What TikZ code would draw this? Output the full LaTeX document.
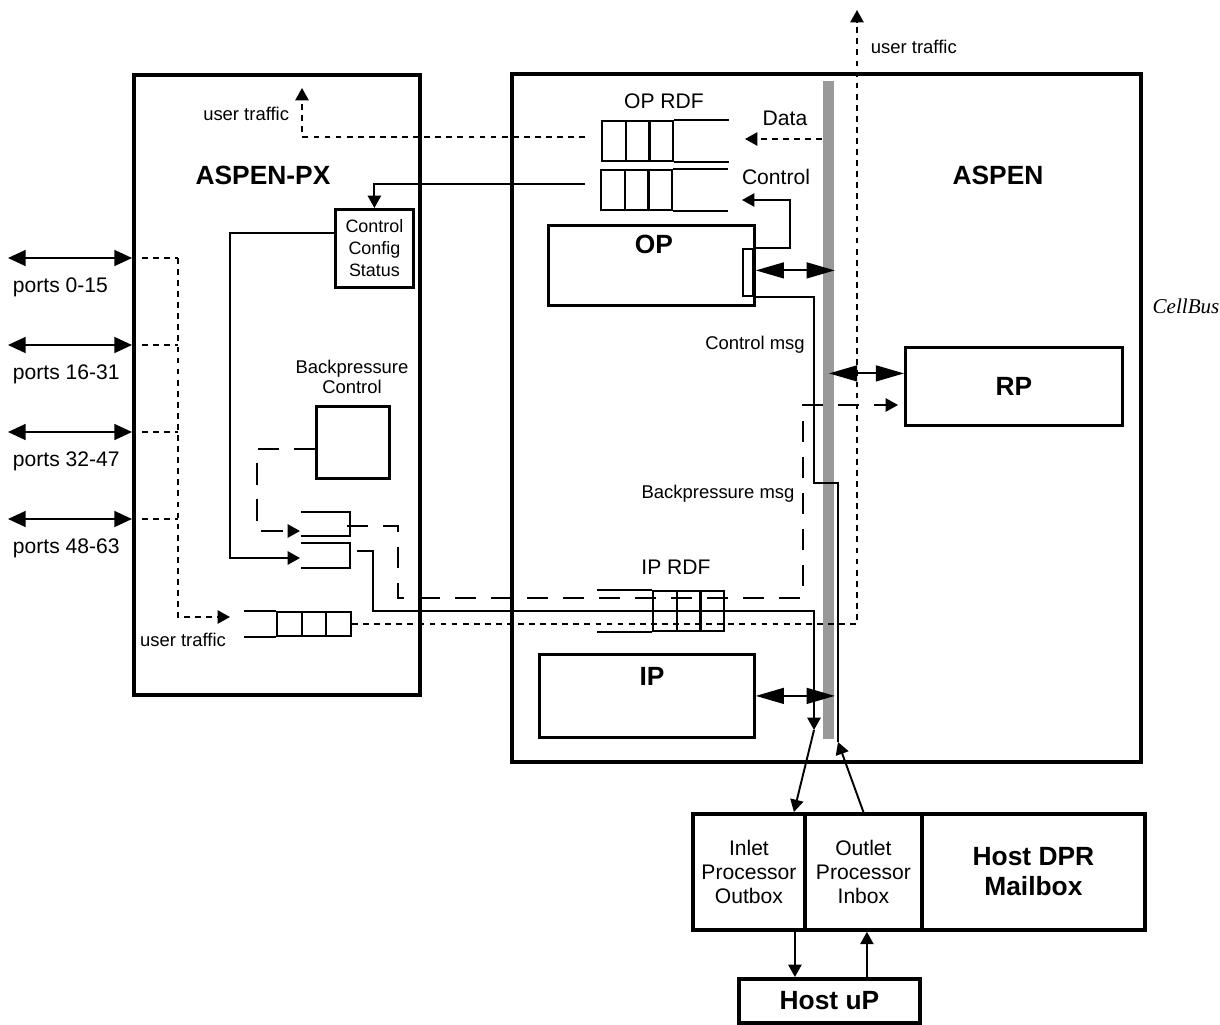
\documentclass[tikz,border=0pt]{standalone}
\usepackage{fontspec}
\setmainfont{Liberation Sans}
\newfontfamily\busfont{Liberation Serif}
\usepackage{tikz}
\usetikzlibrary{arrows.meta}

\tikzset{
  chip/.style={draw,line width=2.2pt,inner sep=0pt,anchor=north west},
  blk/.style={draw,line width=1.6pt,inner sep=0pt,anchor=north west},
  cell/.style={draw,line width=1.1pt,inner sep=0pt,anchor=north west,minimum width=0.48cm,minimum height=0.8cm},
  lbl/.style={font=\fontsize{10.5}{11}\selectfont,inner sep=0pt},
  midtxt/.style={font=\fontsize{12}{13.6}\selectfont,inner sep=0pt},
  headtxt/.style={font=\bfseries\fontsize{15}{17}\selectfont,inner sep=0pt},
  arr/.style={-{Triangle[length=7pt,width=7.5pt]}},
  dotline/.style={dash pattern=on 3.3pt off 3pt},
  bpdash/.style={dash pattern=on 12pt off 8.5pt},
  busarrow/.style={{Triangle[length=16pt,width=9pt]}-{Triangle[length=16pt,width=9pt]}},
  portarrow/.style={{Triangle[length=10pt,width=9pt]}-{Triangle[length=10pt,width=9pt]}},
}

\begin{document}
\begin{tikzpicture}[x=0.02cm,y=-0.02cm,line width=1.1pt]
    \useasboundingbox (0,0) rectangle (1220,1024);

    % boards
    \node[chip,minimum width=5.72cm,minimum height=12.4cm] (px) at (132,73) {};
    \node[chip,minimum width=12.58cm,minimum height=13.76cm] (aspen) at (510,72) {};
    \node[headtxt] (pxname) at (263,175) {ASPEN-PX};
    \node[headtxt] (aspenname) at (998,175) {ASPEN};

    % cellbus
    \node[fill=black!40,inner sep=0pt,anchor=north west,minimum width=0.22cm,minimum height=13.16cm] (bus) at (822,80) {};
    \node[font=\busfont\itshape\fontsize{12}{14}\selectfont] (busname) at (1186,306) {CellBus};

    % processors
    \node[blk,minimum width=4.12cm,minimum height=1.6cm] (op) at (547,224) {};
    \node[headtxt] (opname) at (654,244) {OP};
    \node[draw,line width=1.1pt,inner sep=0pt,anchor=north west,minimum width=0.2cm,minimum height=0.94cm] (opport) at (742,248) {};
    \node[blk,minimum width=4.34cm,minimum height=1.56cm,headtxt] (rp) at (904,346) {RP};
    \node[blk,minimum width=4.3cm,minimum height=1.66cm] (ip) at (538,653) {};
    \node[headtxt] (ipname) at (652,676) {IP};

    % ASPEN-PX blocks
    \node[blk,minimum width=1.56cm,minimum height=1.56cm,align=center,inner sep=0pt,font=\fontsize{10.2}{12.6}\selectfont] (ccs) at (334,208) {Control\\Config\\Status};
    \node[blk,minimum width=1.46cm,minimum height=1.44cm] (bpc) at (315,405) {};
    \node[lbl,align=center] (bpcname) at (352,377) {Backpressure\\Control};

    % queues
    \foreach \i in {0,1,2}{
        \node[cell] (opd\i) at (601+23.7*\i,120) {};
        \node[cell] (opc\i) at (600+23.7*\i,169) {};
        \node[cell] (ipq\i) at (652+23.7*\i,590) {};
        \node[cell,minimum width=0.494cm,minimum height=0.48cm] (ut\i) at (276+24.7*\i,611) {};
    }
    \draw (opd2.north east) -- ++(55,0) (opd2.south east) -- ++(55,0);
    \draw (opc2.north east) -- ++(55,0) (opc2.south east) -- ++(55,0);
    \draw (ipq0.north west) -- ++(-55,0) (ipq0.south west) -- ++(-55,0);
    \draw (ut0.north west) -- ++(-32,0) (ut0.south west) -- ++(-32,0);
    \draw (301,512) -| (350,536) -- (301,536);
    \draw (301,543) -| (350,568) -- (301,568);
    \node[midtxt] (opdname) at (664,101) {OP RDF};
    \node[midtxt] (ipqname) at (676,567) {IP RDF};

    % host side
    \node[chip,minimum width=2.24cm,minimum height=2.32cm,align=center,midtxt] (inlet) at (691,812) {Inlet\\Processor\\Outbox};
    \node[chip,minimum width=2.34cm,minimum height=2.32cm,align=center,midtxt] (outlet) at (803,812) {Outlet\\Processor\\Inbox};
    \node[chip,minimum width=4.46cm,minimum height=2.32cm,align=center,headtxt] (dpr) at (920,812) {Host DPR\\Mailbox};
    \node[chip,minimum width=3.62cm,minimum height=0.88cm,headtxt] (hostup) at (737,977) {Host uP};

    % ports
    \foreach \y/\r [count=\k] in {258/0-15,345/16-31,432/32-47,519/48-63}{
        \coordinate (pt\k) at (8,\y);
        \draw[portarrow] (pt\k) -- (px.west |- pt\k);
        \node[midtxt,anchor=west] (ports\k) at (12,\y+29) {ports \r};
        \coordinate (tap\k) at (142,\y);
        \draw[dotline] (tap\k) -- (178,\y);
    }

    % user traffic
    \coordinate (utin) at (230,617);
    \draw[dotline,arr] (178,258) -- (178,617) -- (utin);
    \node[lbl] (utlbl) at (183,640) {user traffic};
    \coordinate (uttop) at (857,10);
    \draw[dotline,arr] (ut2.east) -| (uttop);
    \node[lbl,anchor=west] (uttoplbl) at (870,47) {user traffic};
    \coordinate (utpx) at (302,88);
    \draw[dotline,arr] ([shift={(-0.32cm,0.08cm)}]opd0.west) -| (utpx);
    \node[lbl,anchor=east] (utpxlbl) at (290,114) {user traffic};

    % data and control into OP RDF
    \coordinate (datain) at (745,139);
    \draw[dotline,arr] (bus.west |- datain) -- (datain);
    \node[midtxt] (datalbl) at (785,118) {Data};
    \node[midtxt] (ctllbl) at (776,177) {Control};
    \coordinate (ctlin) at (742,200);
    \draw[arr] (opport.north east) -| (790,200) -- (ctlin);

    % control to ASPEN-PX
    \draw[arr] ([shift={(-0.3cm,0.12cm)}]opc0.west) -| (ccs.north);
    \coordinate (bq2in) at (300,558);
    \draw[arr] ([yshift=0.3cm]ccs.west) -| (230,558) -- (bq2in);

    % backpressure
    \coordinate (bq1in) at (300,531);
    \draw[bpdash,arr] ([yshift=-0.14cm]bpc.west) -| (257,531) -- (bq1in);
    \coordinate (bq1out) at (347,526);
    \coordinate (rpbp) at (898,405);
    \draw[bpdash,arr] (bq1out) -| (398,598) -| (803,405) -- (rpbp);
    \node[lbl] (bpmsg) at (718,494) {Backpressure msg};

    % inlet path
    \coordinate (bq2out) at (357,551);
    \coordinate (busin) at (814,730);
    \draw[arr] (bq2out) -| (373,611) -| (busin);
    \draw[arr] (busin) -- ([xshift=0.9cm]inlet.north);

    % control msg path
    \coordinate (busout) at (838,742);
    \draw (opport.south east) -| (814,483) -| (busout);
    \draw[arr] (outlet.north) -- (busout);
    \node[lbl] (ctlmsg) at (755,345) {Control msg};

    % cellbus links
    \draw[busarrow] ([yshift=-0.1cm]op.east) -- ++(79,0);
    \draw[busarrow] ([yshift=0.26cm]rp.west) -- ++(-75,0);
    \draw[busarrow] (ip.east) -- ++(79,0);

    % host uP
    \coordinate (h1) at ([xshift=0.92cm]inlet.south);
    \coordinate (h2) at ([xshift=0.07cm]outlet.south);
    \draw[arr] (h1) -- (h1 |- hostup.north);
    \draw[arr] (h2 |- hostup.north) -- (h2);
\end{tikzpicture}
\end{document}
